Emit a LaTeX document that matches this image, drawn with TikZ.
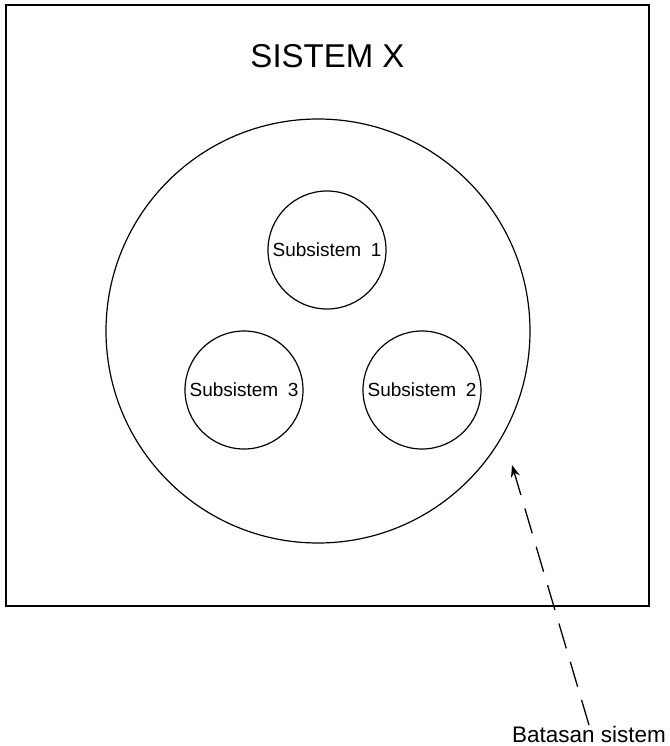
\documentclass[tikz,border=0pt]{standalone}
\usepackage{fontspec}
\setmainfont{Liberation Sans}
\usetikzlibrary{arrows.meta}
\tikzstyle{every node}=[inner sep=0pt]
\tikzstyle{subsistem}=[circle, draw, line width=1.2pt, minimum size=118pt, font=\fontsize{19}{21}\selectfont]
\tikzstyle{batas}=[dash pattern=on 26pt off 14pt, line width=1.3pt, -{Stealth[length=12pt, width=9pt]}]

\begin{document}
\begin{tikzpicture}[x=1pt, y=-1pt, line width=1.2pt]
    \useasboundingbox (0, 0) rectangle (669, 746);
% Frame of the system
    \draw[line width=1.8pt] (6, 5) rectangle (649, 606);
    \node[anchor=base, font=\fontsize{33}{36}\selectfont] (judul) at (327.5, 68) {SISTEM X};
% System boundary
    \node[circle, draw, minimum size=424pt] (sistem) at (318, 331) {};
% Subsystems
    \node[subsistem] (sub1) at (327, 250) {Subsistem\hspace{0.5em}1};
    \node[subsistem] (sub2) at (422, 390) {Subsistem\hspace{0.5em}2};
    \node[subsistem] (sub3) at (244, 390) {Subsistem\hspace{0.5em}3};
% Label with pointer
    \node[anchor=base, font=\fontsize{22.5}{25}\selectfont] (label) at (589, 742) {Batasan sistem};
    \coordinate (ujung) at (512, 465);
    \draw[batas] (label.north) -- (ujung);
\end{tikzpicture}
\end{document}
